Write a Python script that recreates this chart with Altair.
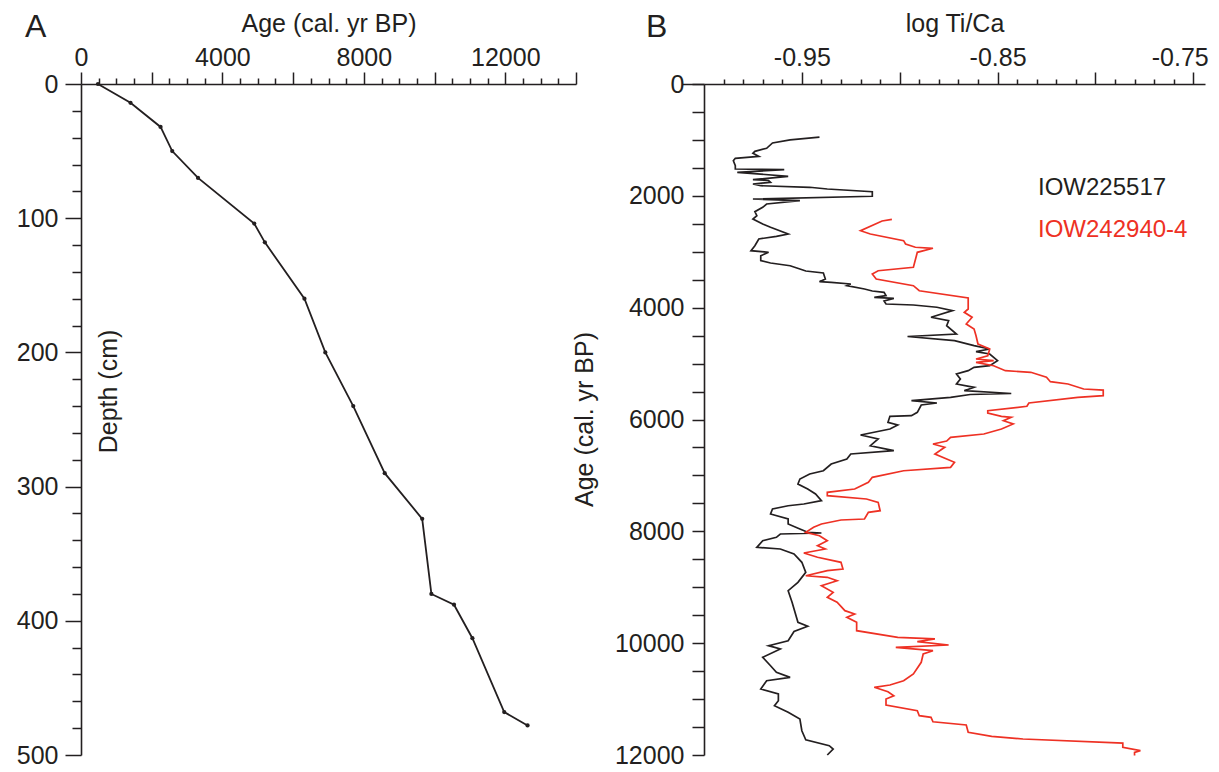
import altair as alt
import pandas as pd

# ---------------- data ----------------
# Panel A: age-depth model
depth_cm = [0, 14, 32, 50, 70, 104, 118, 160, 200, 240, 290, 324, 380, 388, 413, 468, 478]
model_age = [480, 1400, 2250, 2580, 3310, 4900, 5200, 6320, 6910, 7700, 8590, 9650, 9910,
             10550, 11070, 11970, 12630]

# Panel B: IOW225517 (black)
black_age = [950, 1000, 1055, 1150, 1204, 1239, 1293, 1329, 1372, 1461, 1520, 1533, 1579, 1651,
             1711, 1726, 1758, 1788, 1819, 1847, 1878, 1926, 2008, 2057, 2087, 2146, 2205, 2284,
             2355, 2414, 2504, 2563, 2683, 2724, 2772, 2892, 2981, 3010, 3071, 3160, 3201, 3250,
             3309, 3344, 3380, 3487, 3536, 3546, 3577, 3607, 3666, 3702, 3725, 3786, 3815, 3833,
             3881, 3934, 3952, 3993, 4054, 4172, 4233, 4323, 4471, 4516, 4591, 4680, 4739, 4787,
             4829, 4948, 5038, 5067, 5127, 5186, 5276, 5365, 5424, 5485, 5535, 5553, 5603, 5664,
             5705, 5741, 5871, 5932, 5943, 6050, 6098, 6170, 6277, 6349, 6469, 6558, 6617, 6707,
             6796, 6916, 6975, 7064, 7154, 7243, 7332, 7452, 7511, 7542, 7601, 7690, 7779, 7869,
             7958, 8017, 8030, 8048, 8107, 8168, 8286, 8316, 8405, 8554, 8733, 8912, 9062, 9269,
             9627, 9698, 9791, 9956, 10045, 10104, 10253, 10403, 10521, 10611, 10671, 10820,
             10909, 11029, 11118, 11237, 11356, 11566, 11727, 11834, 11893, 12000]
black_ti_ca = [-0.941, -0.956, -0.965, -0.968, -0.974, -0.975, -0.972, -0.984, -0.985, -0.984,
               -0.984, -0.959, -0.983, -0.957, -0.975, -0.967, -0.966, -0.975, -0.971, -0.946,
               -0.937, -0.914, -0.914, -0.975, -0.951, -0.968, -0.970, -0.974, -0.973, -0.975,
               -0.970, -0.966, -0.957, -0.963, -0.972, -0.974, -0.976, -0.967, -0.971, -0.971,
               -0.966, -0.956, -0.951, -0.948, -0.939, -0.938, -0.941, -0.935, -0.925, -0.927,
               -0.918, -0.914, -0.908, -0.907, -0.913, -0.903, -0.908, -0.907, -0.893, -0.881,
               -0.873, -0.884, -0.875, -0.876, -0.871, -0.896, -0.872, -0.862, -0.854, -0.861,
               -0.854, -0.850, -0.854, -0.862, -0.865, -0.871, -0.869, -0.871, -0.862, -0.867,
               -0.843, -0.864, -0.874, -0.894, -0.881, -0.889, -0.891, -0.894, -0.905, -0.906,
               -0.901, -0.905, -0.920, -0.911, -0.915, -0.903, -0.925, -0.927, -0.935, -0.939,
               -0.946, -0.951, -0.952, -0.947, -0.943, -0.940, -0.949, -0.957, -0.965, -0.966,
               -0.957, -0.957, -0.951, -0.947, -0.940, -0.961, -0.963, -0.970, -0.973, -0.961,
               -0.954, -0.950, -0.948, -0.952, -0.957, -0.955, -0.952, -0.947, -0.954, -0.957,
               -0.967, -0.961, -0.970, -0.966, -0.963, -0.956, -0.968, -0.971, -0.962, -0.962,
               -0.964, -0.957, -0.951, -0.950, -0.948, -0.936, -0.934, -0.937]

# Panel B: IOW242940-4 (red)
red_age = [2420, 2450, 2624, 2683, 2802, 2861, 2920, 2938, 3010, 3278, 3339, 3398, 3487, 3607,
           3697, 3827, 4024, 4083, 4172, 4292, 4382, 4501, 4650, 4739, 4859, 4918, 4948, 4977,
           5038, 5127, 5156, 5245, 5324, 5365, 5455, 5473, 5574, 5603, 5705, 5764, 5843, 5884,
           5943, 5961, 6022, 6080, 6170, 6259, 6318, 6385, 6438, 6497, 6617, 6766, 6855, 6916,
           7034, 7123, 7243, 7302, 7363, 7422, 7481, 7631, 7660, 7779, 7797, 7869, 7928, 8017,
           8078, 8168, 8257, 8316, 8388, 8464, 8554, 8674, 8704, 8794, 8822, 8883, 8972, 9090,
           9180, 9269, 9419, 9479, 9538, 9627, 9777, 9895, 9925, 9974, 10033, 10074, 10135,
           10194, 10342, 10551, 10671, 10748, 10789, 10868, 10940, 10999, 11106, 11208, 11297,
           11326, 11405, 11464, 11594, 11666, 11714, 11786, 11863, 11923, 11952, 12010]
red_ti_ca = [-0.904, -0.909, -0.920, -0.915, -0.898, -0.897, -0.892, -0.883, -0.891, -0.893,
             -0.911, -0.914, -0.912, -0.893, -0.890, -0.865, -0.865, -0.867, -0.863, -0.866,
             -0.862, -0.861, -0.860, -0.854, -0.855, -0.861, -0.852, -0.861, -0.852, -0.846,
             -0.833, -0.825, -0.823, -0.814, -0.806, -0.796, -0.796, -0.809, -0.834, -0.835,
             -0.855, -0.855, -0.848, -0.843, -0.847, -0.842, -0.848, -0.857, -0.874, -0.876,
             -0.883, -0.877, -0.882, -0.872, -0.874, -0.898, -0.914, -0.916, -0.923, -0.937,
             -0.937, -0.917, -0.911, -0.910, -0.916, -0.918, -0.930, -0.940, -0.944, -0.948,
             -0.941, -0.937, -0.942, -0.938, -0.949, -0.942, -0.930, -0.929, -0.937, -0.948,
             -0.937, -0.932, -0.940, -0.934, -0.937, -0.932, -0.928, -0.923, -0.927, -0.922,
             -0.922, -0.901, -0.882, -0.891, -0.875, -0.902, -0.883, -0.888, -0.889, -0.893,
             -0.898, -0.905, -0.913, -0.906, -0.903, -0.907, -0.907, -0.891, -0.890, -0.884,
             -0.883, -0.866, -0.865, -0.853, -0.837, -0.786, -0.786, -0.777, -0.780, -0.780]

series_names = ["IOW225517", "IOW242940-4"]
series_colors = ["#231f20", "#ee3124"]
panel_labels = ["A", "B"]

# axis tick values
a_x_major = [0, 2000, 4000, 6000, 8000, 10000, 12000, 14000]
a_x_minor = [500, 1000, 1500, 2500, 3000, 3500, 4500, 5000, 5500, 6500, 7000, 7500, 8500,
             9000, 9500, 10500, 11000, 11500, 12500, 13000, 13500]
a_y_major = [0, 100, 200, 300, 400, 500]
a_y_minor = [20, 40, 60, 80, 120, 140, 160, 180, 220, 240, 260, 280, 320, 340, 360, 380,
             420, 440, 460, 480]
b_x_major = [-0.95, -0.90, -0.85, -0.80, -0.75]
b_x_minor = [-0.99, -0.98, -0.97, -0.96, -0.94, -0.93, -0.92, -0.91, -0.89, -0.88, -0.87,
             -0.86, -0.84, -0.83, -0.82, -0.81, -0.79, -0.78, -0.77, -0.76]
b_y_ticks = list(range(0, 12001, 500))

# ---------------- style ----------------
INK = "#231f20"
FONT = "Liberation Sans"
FS = 25
H = 671
WA = 495
WB = 501

base_axis = dict(
    grid=False, domainColor=INK, domainWidth=1.6, tickColor=INK, tickWidth=1.5,
    labelFont=FONT, labelFontSize=FS, labelColor=INK, labelOverlap=False,
    titleFont=FONT, titleFontSize=FS, titleColor=INK, titleFontWeight="normal",
)
minor_axis = dict(
    grid=False, domain=False, labels=False, title=None, tickColor=INK, tickWidth=1.5,
)

# ---------------- panel A ----------------
dfA = pd.DataFrame({"age": model_age, "depth": depth_cm})
xA = alt.Scale(domain=[0, 14000], nice=False, zero=False)
yA = alt.Scale(domain=[0, 500], reverse=True, nice=False)

a_line = alt.Chart(dfA).mark_line(color=INK, strokeWidth=1.8).encode(
    x=alt.X("age:Q", scale=xA, axis=alt.Axis(
        orient="top", values=a_x_major, tickSize=12, format="d", labelPadding=2,
        labelFlush=False,
        labelExpr="datum.value % 4000 == 0 && datum.value < 13000 ? datum.label : ''",
        title="Age (cal. yr BP)", titleY=-53, titleBaseline="alphabetic", **base_axis)),
    y=alt.Y("depth:Q", scale=yA, axis=alt.Axis(
        orient="left", values=a_y_major, tickSize=16, format="d", labelPadding=7,
        labelFlush=False,
        title="Depth (cm)", titleAngle=270, titleX=35, titleY=307, titleAlign="center",
        titleBaseline="alphabetic", **base_axis)),
)
a_pts = alt.Chart(dfA).mark_circle(color=INK, size=18, opacity=1).encode(
    x=alt.X("age:Q", scale=xA, axis=alt.Axis(orient="top", values=a_x_minor, tickSize=6,
                                             **minor_axis)),
    y=alt.Y("depth:Q", scale=yA, axis=alt.Axis(orient="left", values=a_y_minor, tickSize=9,
                                               **minor_axis)),
)
a_lab = alt.Chart(pd.DataFrame({"t": [panel_labels[0]]})).mark_text(
    font=FONT, fontSize=32, color=INK, align="left", baseline="alphabetic"
).encode(text="t:N", x=alt.value(-56), y=alt.value(-47))

panelA = alt.layer(a_line, a_pts, a_lab).resolve_axis(
    x="independent", y="independent").properties(width=WA, height=H)

# ---------------- panel B ----------------
dfB1 = pd.DataFrame({"age": black_age, "v": black_ti_ca})
dfB2 = pd.DataFrame({"age": red_age, "v": red_ti_ca})
xB = alt.Scale(domain=[-1.0, -0.744], nice=False, zero=False)
yB = alt.Scale(domain=[0, 12000], reverse=True, nice=False)

b_black = alt.Chart(dfB1).mark_line(color=series_colors[0], strokeWidth=1.7).encode(
    x=alt.X("v:Q", scale=xB, axis=alt.Axis(
        orient="top", values=b_x_major, tickSize=12, labelPadding=2,
        labelFlush=15, labelFlushOffset=15,
        labelExpr="abs(round(datum.value*100)) % 10 == 5 ? '-' + format(abs(datum.value), '.2f') : ''",
        title="log Ti/Ca", titleY=-53, titleBaseline="alphabetic", **base_axis)),
    y=alt.Y("age:Q", scale=yB, axis=alt.Axis(
        orient="left", values=b_y_ticks, tickSize=12, format="d", labelPadding=8,
        labelFlush=False,
        labelExpr="datum.value % 2000 == 0 ? datum.label : ''",
        title="Age (cal. yr BP)", titleAngle=270, titleX=-112, titleY=335, titleAlign="center",
        titleBaseline="alphabetic", **base_axis)),
    order=alt.Order("age:Q"),
)
b_red = alt.Chart(dfB2).mark_line(color=series_colors[1], strokeWidth=1.7).encode(
    x=alt.X("v:Q", scale=xB, axis=alt.Axis(orient="top", values=b_x_minor, tickSize=5,
                                           **minor_axis)),
    y=alt.Y("age:Q", scale=yB, axis=alt.Axis(orient="left", values=[0], tickSize=22,
                                             **minor_axis)),
    order=alt.Order("age:Q"),
)
dfLeg = pd.DataFrame({"name": series_names, "color": series_colors, "row": [0, 1]})
leg0 = alt.Chart(dfLeg).transform_filter("datum.row == 0").mark_text(
    font=FONT, fontSize=24, color=series_colors[0], align="left", baseline="alphabetic"
).encode(text="name:N", x=alt.value(334), y=alt.value(111))
leg1 = alt.Chart(dfLeg).transform_filter("datum.row == 1").mark_text(
    font=FONT, fontSize=24, color=series_colors[1], align="left", baseline="alphabetic"
).encode(text="name:N", x=alt.value(334), y=alt.value(153))
b_lab = alt.Chart(pd.DataFrame({"t": [panel_labels[1]]})).mark_text(
    font=FONT, fontSize=32, color=INK, align="left", baseline="alphabetic"
).encode(text="t:N", x=alt.value(-58), y=alt.value(-47))

panelB = alt.layer(b_black, b_red, leg0, leg1, b_lab).resolve_axis(
    x="independent", y="independent").properties(width=WB, height=H)

chart = alt.hconcat(panelA, panelB, spacing=128, bounds="flush").properties(
    padding={"left": 8, "top": 3, "right": 0, "bottom": -1}
).configure_view(stroke=None)

chart.save("out.html", embed_options={"renderer": "svg", "actions": False})
